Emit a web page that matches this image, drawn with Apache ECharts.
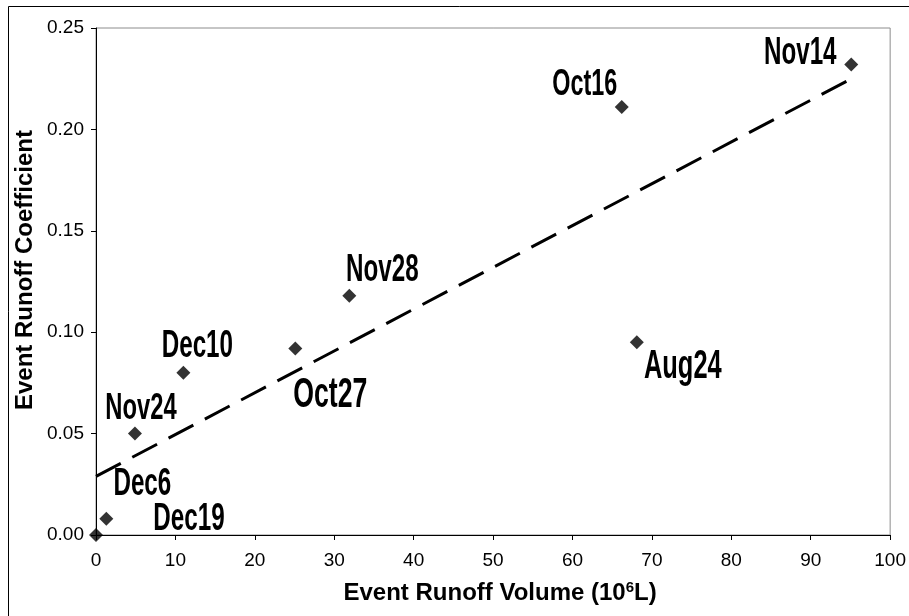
<!DOCTYPE html>
<html>
<head>
<meta charset="utf-8">
<script src="https://cdn.jsdelivr.net/npm/echarts@6/dist/echarts.min.js"></script>
<style>
  html, body { margin: 0; padding: 0; background: #fff; }
  #chart { width: 909px; height: 616px; }
</style>
</head>
<body>
<div id="chart"></div>
<script>
// Storm events: runoff volume (10^6 L) against runoff coefficient
const events = ['Dec19', 'Dec6', 'Nov24', 'Dec10', 'Oct27', 'Nov28', 'Oct16', 'Aug24', 'Nov14'];
const runoffVolume = [0, 1.3, 4.9, 11.0, 25.1, 31.9, 66.2, 68.1, 95.1];
const runoffCoefficient = [0.000, 0.008, 0.050, 0.080, 0.092, 0.118, 0.211, 0.095, 0.232];

// Axis ranges / tick spacing
const xRange = [0, 100];
const xStep = 10;
const yRange = [0, 0.25];
const yStep = 0.05;

// Label placement (pixel offset of each event label from its marker) and size
const labelOffsets = [[93, -16], [36, -34], [6, -25], [14, -26], [35, 47], [33, -25], [-37, -22], [46, 25], [-51, -11]];
const labelSizes = [29.5, 29.5, 29, 29.5, 32.5, 29.5, 28.5, 31, 29.5];

// Least-squares trend line through all events
function linearFit(xs, ys) {
  const n = xs.length;
  const mx = xs.reduce((a, b) => a + b, 0) / n;
  const my = ys.reduce((a, b) => a + b, 0) / n;
  let sxy = 0, sxx = 0;
  for (let i = 0; i < n; i++) {
    sxy += (xs[i] - mx) * (ys[i] - my);
    sxx += (xs[i] - mx) * (xs[i] - mx);
  }
  const slope = sxy / sxx;
  return { slope, intercept: my - slope * mx };
}
const fit = linearFit(runoffVolume, runoffCoefficient);
const xLo = Math.min(...runoffVolume);
const xHi = Math.max(...runoffVolume);
const trend = [[xLo, fit.intercept + fit.slope * xLo], [xHi, fit.intercept + fit.slope * xHi]];

const chart = echarts.init(document.getElementById('chart'), null, { renderer: 'canvas' });

const baseFont = '"Liberation Sans", Arial, sans-serif';

chart.setOption({
  animation: false,
  backgroundColor: '#fff',
  grid: {
    left: 96, right: 17, top: 28, bottom: 81,
    show: true, borderColor: '#8c8c8c', borderWidth: 1, backgroundColor: 'transparent'
  },
  xAxis: {
    type: 'value',
    min: xRange[0], max: xRange[1], interval: xStep,
    splitLine: { show: false },
    axisLine: { show: true, onZero: false, lineStyle: { color: '#000', width: 1 } },
    axisTick: { show: true, inside: false, length: 5, lineStyle: { color: '#000' } },
    axisLabel: { color: '#000', fontSize: 19, fontFamily: baseFont, margin: 16 },
    name: 'Event Runoff Volume (10{sup|6}L)',
    nameLocation: 'middle',
    nameGap: 45,
    nameTextStyle: {
      color: '#000', fontSize: 24, fontWeight: 'bold', fontFamily: baseFont,
      padding: [0, 0, 0, 14],
      rich: {
        sup: { fontSize: 15, fontWeight: 'bold', fontFamily: baseFont, color: '#000', padding: [0, 0, 12, 0] }
      }
    }
  },
  yAxis: {
    type: 'value',
    min: yRange[0], max: yRange[1], interval: yStep,
    splitLine: { show: false },
    axisLine: { show: true, onZero: false, lineStyle: { color: '#000', width: 1 } },
    axisTick: { show: true, inside: false, length: 5, lineStyle: { color: '#000' } },
    axisLabel: {
      color: '#000', fontSize: 19, fontFamily: baseFont, margin: 12,
      formatter: v => v.toFixed(2)
    }
  },
  graphic: [
    {
      type: 'rect', silent: true, z: 100,
      shape: { x: 8.5, y: 6.5, width: 920, height: 640 },
      style: { fill: 'none', stroke: '#000', lineWidth: 1 }
    },
    {
      // vertical axis title, reading bottom to top
      type: 'text', silent: true,
      x: 25, y: 270, rotation: Math.PI / 2,
      style: {
        text: 'Event Runoff Coefficient',
        font: 'bold 24px ' + baseFont,
        fill: '#000', align: 'center', verticalAlign: 'middle'
      }
    }
  ],
  series: [
    {
      name: 'Trend',
      type: 'line',
      data: trend,
      symbol: 'none',
      silent: true,
      lineStyle: { color: '#000', width: 3, type: [28, 13], cap: 'butt' },
      z: 2
    },
    {
      name: 'Events',
      type: 'scatter',
      data: runoffVolume.map((v, i) => [v, runoffCoefficient[i]]),
      symbol: 'diamond',
      symbolSize: 14,
      itemStyle: { color: '#000' },
      clip: false,
      z: 3
    },
    {
      name: 'Event labels',
      type: 'custom',
      data: runoffVolume.map((v, i) => [v, runoffCoefficient[i], i]),
      silent: true,
      clip: false,
      z: 4,
      renderItem: (params, api) => {
        const i = api.value(2);
        const p = api.coord([api.value(0), api.value(1)]);
        const off = labelOffsets[i];
        // tall, condensed bold lettering
        return {
          type: 'text',
          x: p[0] + off[0],
          y: p[1] + off[1],
          scaleX: 0.82,
          scaleY: 1.3,
          style: {
            text: events[i],
            font: 'bold ' + labelSizes[i] + 'px ' + baseFont,
            fill: '#000',
            align: 'center',
            verticalAlign: 'middle'
          }
        };
      }
    }
  ]
});
</script>
</body>
</html>
